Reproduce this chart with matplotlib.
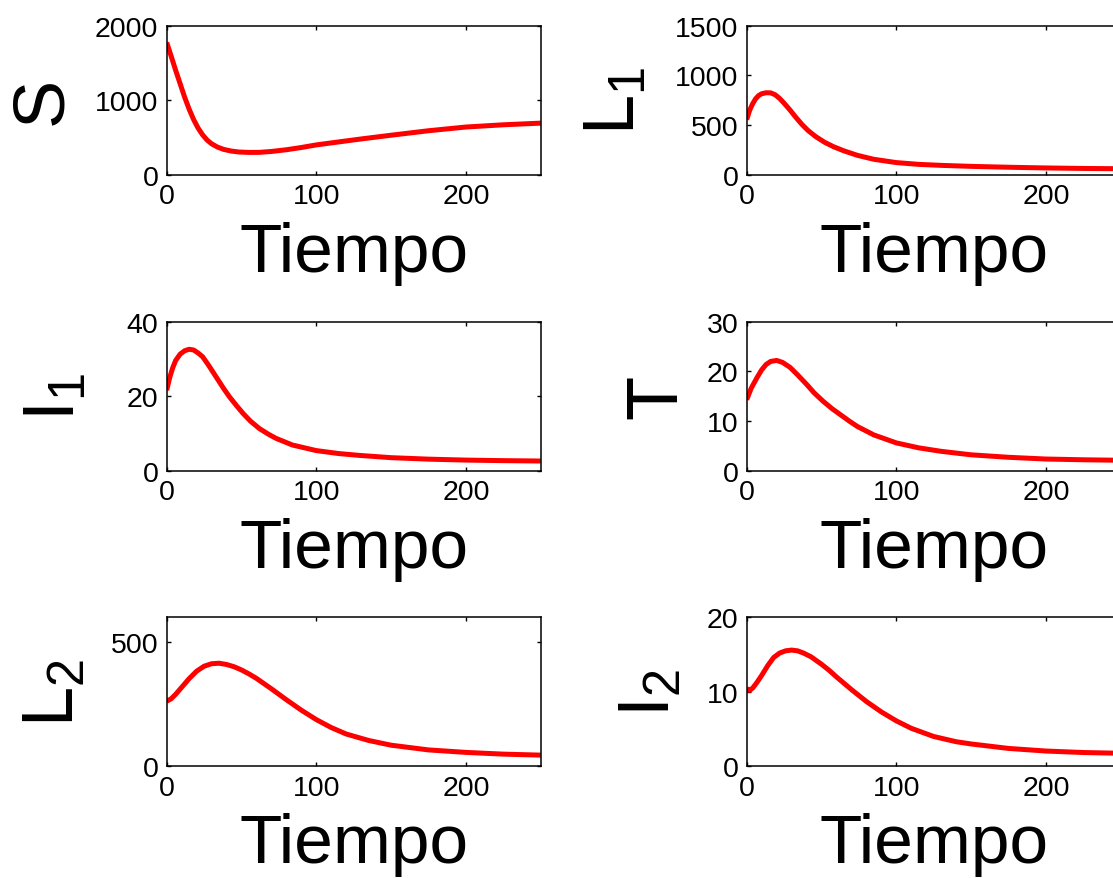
import matplotlib
matplotlib.use("Agg")
import matplotlib.pyplot as plt

plt.rcParams['font.family'] = ['Liberation Sans', 'DejaVu Sans']
plt.rcParams['mathtext.default'] = 'regular'

# values (Tiempo on x)
t_S = [0, 3, 6, 9, 12, 15, 18, 21, 24, 27, 30, 34, 38, 43, 48, 55, 62, 70, 80, 90,
       100, 115, 130, 150, 175, 200, 225, 250]
S = [1775, 1590, 1400, 1220, 1040, 880, 740, 625, 535, 465, 415, 370, 340, 318, 305,
     299, 300, 312, 335, 365, 400, 440, 480, 530, 590, 640, 670, 692]

t_L1 = [0, 2, 4, 6, 8, 10, 13, 16, 19, 22, 25, 29, 33, 37, 41, 46, 52, 58, 65, 74,
        85, 100, 115, 130, 150, 175, 200, 225, 250]
L1 = [555, 650, 715, 765, 797, 815, 825, 824, 805, 768, 720, 650, 575, 505, 445, 385,
      327, 282, 240, 195, 155, 122, 104, 94, 84, 75, 68, 63, 60]

t_I1 = [0, 2, 4, 6, 9, 12, 15, 18, 21, 24, 28, 33, 38, 42, 47, 51, 56, 62, 68, 73,
        84, 100, 115, 129, 150, 175, 200, 225, 250]
I1 = [21.6, 25.0, 27.6, 29.6, 31.3, 32.2, 32.6, 32.4, 31.6, 30.6, 28.3, 25.2, 22.1,
      19.8, 17.3, 15.4, 13.3, 11.3, 9.8, 8.7, 6.9, 5.4, 4.6, 4.1, 3.5, 3.1, 2.85,
      2.7, 2.6]

t_T = [0, 3, 7, 10, 13, 16, 20, 24, 29, 34, 40, 45, 51, 57, 63, 69, 74, 85, 100,
       115, 130, 150, 175, 200, 225, 250]
T = [14.3, 16.6, 18.8, 20.3, 21.4, 22.0, 22.2, 21.8, 20.8, 19.3, 17.4, 15.7, 14.0,
     12.5, 11.2, 9.9, 8.9, 7.2, 5.6, 4.6, 3.9, 3.2, 2.7, 2.35, 2.2, 2.1]

t_L2 = [0, 3, 6, 10, 15, 20, 25, 30, 35, 40, 45, 50, 55, 60, 70, 80, 90, 100, 110,
        120, 135, 150, 175, 200, 225, 250]
L2 = [262, 272, 290, 318, 353, 383, 403, 413, 415, 410, 401, 388, 372, 354, 312, 268,
      226, 188, 156, 130, 104, 85, 66, 56, 49, 45]

t_I2 = [0, 1, 2, 4, 7, 10, 14, 18, 22, 26, 30, 34, 38, 43, 50, 55, 60, 70, 80, 90,
        100, 110, 125, 140, 150, 175, 200, 225, 250]
I2 = [10.5, 10.25, 10.2, 10.5, 11.3, 12.2, 13.5, 14.6, 15.2, 15.5, 15.6, 15.5, 15.2,
      14.7, 13.7, 12.9, 12.0, 10.3, 8.7, 7.3, 6.1, 5.1, 4.0, 3.3, 3.0, 2.4, 2.05,
      1.85, 1.75]

panels = [
    (t_S, S, 'S', (0, 2000), [0, 1000, 2000], -0.243),
    (t_L1, L1, '$L_1$', (0, 1500), [0, 500, 1000, 1500], -0.259),
    (t_I1, I1, '$I_1$', (0, 40), [0, 20, 40], -0.207),
    (t_T, T, 'T', (0, 30), [0, 10, 20, 30], -0.149),
    (t_L2, L2, '$L_2$', (0, 600), [0, 500], -0.21),
    (t_I2, I2, '$I_2$', (0, 20), [0, 10, 20], -0.165),
]

fig = plt.figure(figsize=(11.13, 8.79), dpi=100)
W, H = 1113., 879.
lefts = [166.7, 746.7]
tops = [26.7, 322.7, 618.3]
aw, ah = 374., 149.

for i, (t, y, lab, ylim, yt, lx) in enumerate(panels):
    r, c = divmod(i, 2)
    ax = fig.add_axes([lefts[c] / W, 1 - (tops[r] + ah) / H, aw / W, ah / H])
    ax.plot(t, y, color='red', lw=3.6, solid_joinstyle='round',
            solid_capstyle='butt')
    ax.set_xlim(0, 250)
    ax.set_ylim(*ylim)
    ax.set_xticks([0, 100, 200])
    ax.set_yticks(yt)
    ax.tick_params(direction='in', length=3, width=1, top=True, right=True,
                   labelsize=20.5, pad=6)
    for sp in ax.spines.values():
        sp.set_linewidth(1.1)
    ax.set_xlabel('Tiempo', fontsize=50)
    ax.xaxis.set_label_coords(0.5, -0.31)
    ax.set_ylabel(lab, fontsize=52)
    ax.yaxis.set_label_coords(lx, 0.5)

fig.savefig('out.png', dpi=100)
